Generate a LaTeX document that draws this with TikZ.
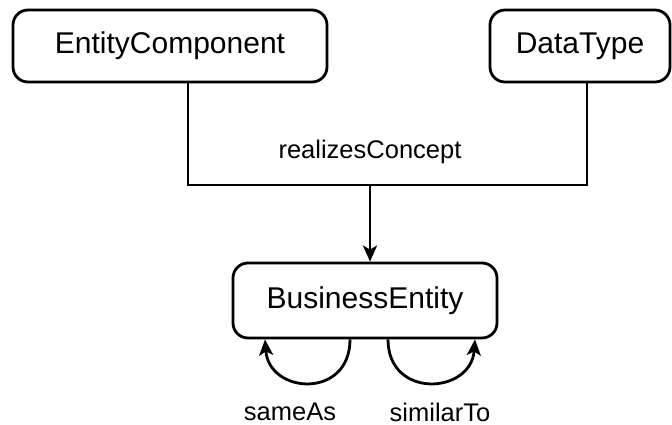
\documentclass[tikz,border=0pt]{standalone}
\usepackage{fontspec}
\setmainfont{Liberation Sans}
\usetikzlibrary{arrows.meta,calc}
\begin{document}
\begin{tikzpicture}[x=1pt,y=-1pt,
  box/.style={draw=black, line width=2.8pt, rounded corners=15pt, inner sep=0pt,
    font=\fontsize{30}{36}\selectfont},
  lbl/.style={font=\fontsize{25.5}{30}\selectfont, inner sep=0pt},
  conn/.style={line width=2.8pt},
  arr/.style={line width=2.8pt, -{Stealth[length=16pt,width=14pt,inset=4pt]}}]
\useasboundingbox (0,0) rectangle (672,425);
\node[box, minimum width=314pt, minimum height=72pt] (ec) at (170,46) {EntityComponent};
\node[box, minimum width=180pt, minimum height=72pt] (dt) at (580,46) {DataType};
\node[box, minimum width=264pt, minimum height=75pt] (be) at (365,300.5) {BusinessEntity};
\coordinate (mid) at (370,185);
\node[lbl] (rc) at (370,152) {realizesConcept};
\draw[conn] ([xshift=18pt]ec.south) |- (mid) -| ([xshift=7pt]dt.south);
\draw[arr] (mid) -- (mid |- be.north);
\draw[arr] ([xshift=-15pt]be.south) .. controls +(0,60) and +(4,55) .. ([xshift=-100pt]be.south);
\draw[arr] ([xshift=23pt]be.south) .. controls +(0,60) and +(-4,55) .. ([xshift=110pt]be.south);
\node[lbl] (sa) at (290,412) {sameAs};
\node[lbl] (st) at (440,412) {similarTo};
\end{tikzpicture}
\end{document}
